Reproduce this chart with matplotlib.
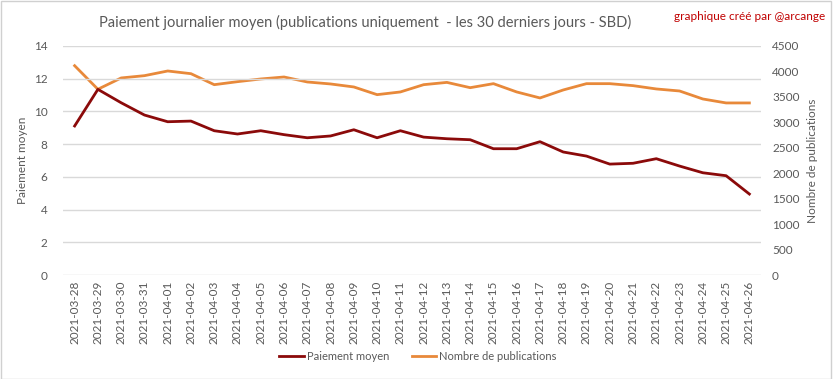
import matplotlib.pyplot as plt
from matplotlib.patches import Rectangle

dates = [
    "2021-03-28", "2021-03-29", "2021-03-30", "2021-03-31", "2021-04-01",
    "2021-04-02", "2021-04-03", "2021-04-04", "2021-04-05", "2021-04-06",
    "2021-04-07", "2021-04-08", "2021-04-09", "2021-04-10", "2021-04-11",
    "2021-04-12", "2021-04-13", "2021-04-14", "2021-04-15", "2021-04-16",
    "2021-04-17", "2021-04-18", "2021-04-19", "2021-04-20", "2021-04-21",
    "2021-04-22", "2021-04-23", "2021-04-24", "2021-04-25", "2021-04-26",
]
paiement_moyen = [
    9.11, 11.35, 10.53, 9.78, 9.37, 9.41, 8.82, 8.62, 8.82, 8.58,
    8.39, 8.50, 8.88, 8.39, 8.82, 8.43, 8.33, 8.27, 7.72, 7.72,
    8.15, 7.52, 7.27, 6.78, 6.83, 7.11, 6.66, 6.25, 6.07, 4.95,
]
nb_publications = [
    4113, 3650, 3872, 3917, 4009, 3956, 3740, 3799, 3852, 3891,
    3793, 3754, 3695, 3544, 3597, 3740, 3785, 3681, 3760, 3597,
    3479, 3636, 3760, 3760, 3721, 3656, 3616, 3459, 3381, 3381,
]
left_ticks = [0, 2, 4, 6, 8, 10, 12, 14]
right_ticks = [0, 500, 1000, 1500, 2000, 2500, 3000, 3500, 4000, 4500]

RED = "#8B0A0A"
ORANGE = "#E8893A"
GRID = "#D9D9D9"
TXT = "#595959"

plt.rcParams["font.family"] = ["Lato", "DejaVu Sans"]

fig = plt.figure(figsize=(8.33, 3.79), dpi=100)
fig.patches.append(Rectangle((0.001, 0.001), 0.997, 0.996, transform=fig.transFigure,
                             fill=False, edgecolor="#D0D0D0", linewidth=1))

ax = fig.add_axes([63 / 833, 1 - 275 / 379, 698 / 833, 229 / 379])
ax2 = ax.twinx()

x = list(range(len(dates)))
l1, = ax.plot(x, paiement_moyen, color=RED, linewidth=2, label="Paiement moyen")
l2, = ax2.plot(x, nb_publications, color=ORANGE, linewidth=2, label="Nombre de publications")
ax.set_zorder(ax2.get_zorder() + 1)
ax.patch.set_visible(False)

ax.set_xlim(-0.5, len(dates) - 0.5)
ax.set_ylim(0, 14)
ax2.set_ylim(0, 4500)
ax.set_yticks(left_ticks)
ax2.set_yticks(right_ticks)
ax.set_xticks(x)
ax.set_xticklabels(dates, rotation=90, fontsize=8, color=TXT)

for a in (ax, ax2):
    for s in a.spines.values():
        s.set_visible(False)
    a.tick_params(length=0, colors=TXT, labelsize=8.5)
ax.tick_params(axis="y", pad=11)
ax2.tick_params(axis="y", pad=8)
ax.tick_params(axis="x", pad=4)
ax.grid(axis="y", color=GRID, linewidth=1)
ax.set_axisbelow(True)

ax.set_ylabel("Paiement moyen", color=TXT, fontsize=8.5, labelpad=4)
ax2.set_ylabel("Nombre de publications", color=TXT, fontsize=8.5, labelpad=5)

fig.text(365 / 833, 1 - 22 / 379, "Paiement journalier moyen (publications uniquement  - les 30 derniers jours - SBD)",
         ha="center", va="center", fontsize=10.5, color=TXT)
fig.text(825 / 833, 1 - 17 / 379, "graphique créé par @arcange", ha="right", va="center",
         fontsize=8.5, color="#C00000")

fig.legend(handles=[l1, l2], loc="center", bbox_to_anchor=(418 / 833, 1 - 356 / 379),
           ncol=2, frameon=False, fontsize=8, labelcolor=TXT, handlelength=2.2,
           handletextpad=0.3, columnspacing=2.0)

fig.savefig("out.png", dpi=100)
